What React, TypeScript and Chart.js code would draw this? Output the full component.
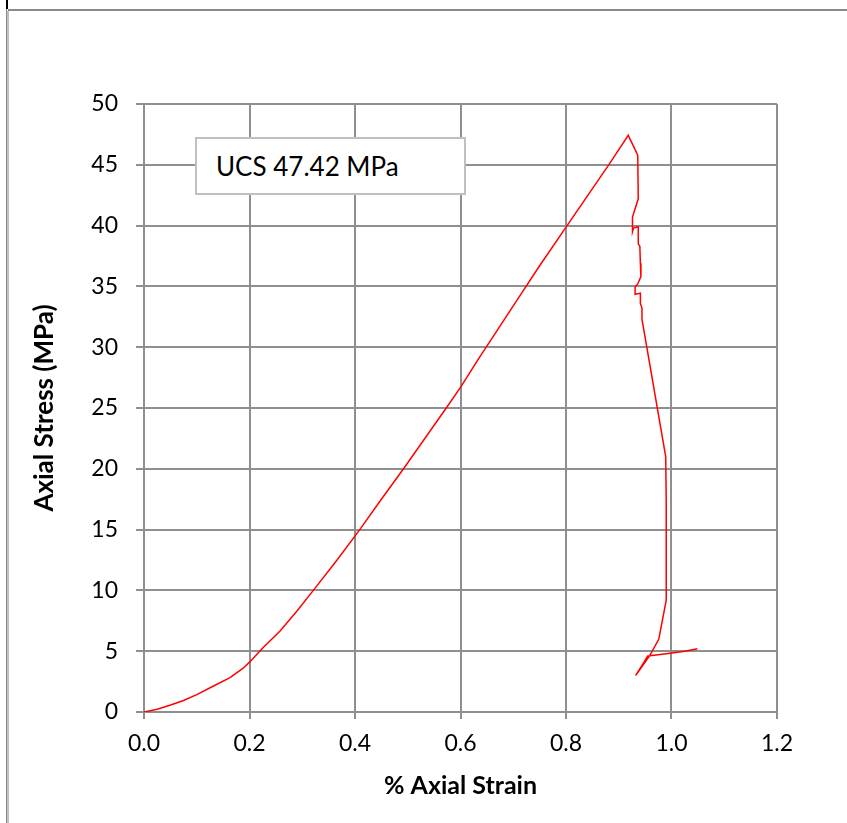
import React, { useEffect, useRef } from 'react';
import { Chart, registerables } from 'chart.js';

Chart.register(...registerables);

// % axial strain
const strain = [
  0, 0.025, 0.049, 0.075, 0.1, 0.13, 0.163, 0.188, 0.2, 0.226, 0.258, 0.29, 0.321, 0.366,
  0.409, 0.45, 0.492, 0.573, 0.6, 0.632, 0.7, 0.75, 0.802, 0.881, 0.918,
  0.936, 0.937, 0.926, 0.926, 0.928, 0.937, 0.937, 0.94, 0.941, 0.942, 0.936, 0.931, 0.931,
  0.936, 0.941, 0.941, 0.944, 0.944, 0.989, 0.99, 0.99, 0.976, 0.959, 0.932,
  0.945, 0.955, 0.975, 1.001, 1.025, 1.049,
];
// axial stress (MPa)
const stress = [
  0, 0.22, 0.55, 0.95, 1.43, 2.1, 2.83, 3.6, 4.1, 5.3, 6.66, 8.3, 10.0, 12.5,
  15.0, 17.5, 20.0, 25.0, 26.7, 28.9, 33.4, 36.7, 40.0, 45.0, 47.42,
  45.8, 42.2, 40.7, 39.5, 39.8, 39.9, 38.5, 38.3, 36.9, 35.8, 35.2, 34.95, 34.35,
  34.4, 34.45, 33.6, 33.2, 32.3, 21.0, 17.4, 9.2, 6.0, 4.66, 3.0,
  3.9, 4.6, 4.7, 4.85, 5.0, 5.2,
];

const xTickLabels = ['0.0', '0.2', '0.4', '0.6', '0.8', '1.0', '1.2'];
const yTickLabels = ['0', '5', '10', '15', '20', '25', '30', '35', '40', '45', '50'];
const xTitle = '% Axial Strain';
const yTitle = 'Axial Stress (MPa)';
const noteText = 'UCS 47.42 MPa';

const W = 847;
const H = 823;

export default function App() {
  const ref = useRef<HTMLCanvasElement | null>(null);

  useEffect(() => {
    const canvas = ref.current;
    if (!canvas) return;
    const pts = strain.map((x, i) => ({ x, y: stress[i] }));
    const gridColor = '#8f8f8f';
    const tickFont = { family: 'Lato', size: 23 };
    const chart = new Chart(canvas, {
      type: 'scatter',
      data: {
        datasets: [
          {
            data: pts,
            showLine: true,
            borderColor: '#ff0000',
            backgroundColor: '#ff0000',
            borderWidth: 1.5,
            pointRadius: 0,
            tension: 0,
          },
        ],
      },
      options: {
        animation: false,
        responsive: false,
        devicePixelRatio: 1,
        layout: { padding: { left: 0, top: 104, right: 70, bottom: 0 } },
        plugins: { legend: { display: false }, tooltip: { enabled: false } },
        scales: {
          x: {
            type: 'linear',
            min: 0,
            max: 1.2,
            afterFit: (s: any) => {
              s.height = 111;
            },
            ticks: {
              stepSize: 0.2,
              color: '#000',
              font: tickFont,
              padding: 11,
              callback: (_v: any, i: number) => xTickLabels[i],
            },
            grid: { color: gridColor, lineWidth: 2, tickLength: 7, drawTicks: true },
            border: { color: gridColor, width: 2 },
            title: {
              display: true,
              text: xTitle,
              color: '#000',
              font: { family: 'Lato', size: 25, weight: 'bold' },
              padding: { top: 0, bottom: 22 },
            },
          },
          y: {
            type: 'linear',
            min: 0,
            max: 50,
            afterFit: (s: any) => {
              s.width = 144;
            },
            ticks: {
              stepSize: 5,
              color: '#000',
              font: tickFont,
              padding: 18,
              callback: (_v: any, i: number) => yTickLabels[i],
            },
            grid: { color: gridColor, lineWidth: 2, tickLength: 8, drawTicks: true },
            border: { color: gridColor, width: 2 },
            title: {
              display: true,
              text: yTitle,
              color: '#000',
              font: { family: 'Lato', size: 26, weight: 'bold' },
              padding: { top: 29, bottom: 0 },
            },
          },
        },
      },
    });
    return () => chart.destroy();
  }, []);

  return (
    <div
      style={{
        position: 'fixed',
        left: 0,
        top: 0,
        width: W,
        height: H,
        background: '#fff',
        overflow: 'hidden',
      }}
    >
      <canvas ref={ref} width={W} height={H} style={{ position: 'absolute', left: 0, top: 0, width: W, height: H }} />
      <div style={{ position: 'absolute', left: 6, top: 0, width: 2, height: 9, background: '#000' }} />
      <div style={{ position: 'absolute', left: 8, top: 9, right: 0, height: 2, background: '#8a8a8a' }} />
      <div style={{ position: 'absolute', left: 6, top: 9, width: 1, bottom: 0, background: '#8a8a8a' }} />
      <div style={{ position: 'absolute', left: 7, top: 11, width: 2, bottom: 0, background: '#c0c0c0' }} />
      <div
        style={{
          position: 'absolute',
          left: 195,
          top: 137,
          width: 271,
          height: 58,
          boxSizing: 'border-box',
          border: '2px solid #c0c0c0',
          background: '#fff',
          fontFamily: 'Lato',
          fontSize: 26,
          color: '#000',
          paddingLeft: 19,
          display: 'flex',
          alignItems: 'center',
        }}
      >
        {noteText}
      </div>
    </div>
  );
}
